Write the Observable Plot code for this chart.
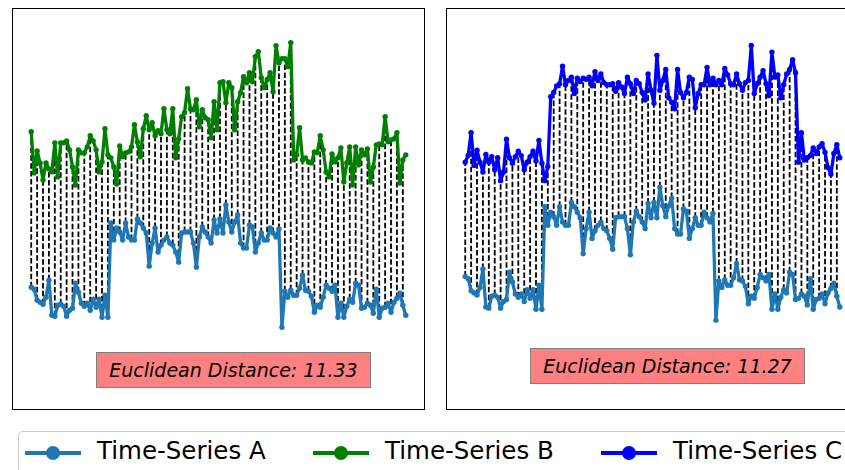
<!DOCTYPE html>
<html>
<head>
<meta charset="utf-8">
<script src="https://cdn.jsdelivr.net/npm/d3@7"></script>
<script src="https://cdn.jsdelivr.net/npm/@observablehq/plot@0.6"></script>
<style>
  html, body { margin: 0; padding: 0; background: #fff; }
  body { width: 845px; height: 470px; overflow: hidden; position: relative; font-family: "DejaVu Sans", sans-serif; }
  .panel { position: absolute; top: 7px; width: 414px; height: 403px; }
  .panel svg { max-width: none !important; width: 414px; height: 403px; display: block; }
  .dist { position: absolute; height: 36px; box-sizing: border-box; background: #ff8080; border: 1px solid #808080;
          font-style: italic; font-size: 19px; color: #000; display: flex; align-items: center; justify-content: center; white-space: nowrap; }
  .legend { position: absolute; left: 18px; top: 431px; width: 900px; height: 80px; box-sizing: border-box;
            border: 1px solid #cccccc; border-radius: 5px; background: #fff; }
  .item { position: absolute; top: 0; height: 40px; }
  .item svg { position: absolute; top: 13px; left: 0; }
  .item span { position: absolute; top: 4px; font-size: 24.5px; white-space: nowrap; color: #000; }
</style>
</head>
<body>
<div id="left" class="panel" style="left:11px"></div>
<div id="right" class="panel" style="left:445px"></div>
<div class="dist" style="left:96px; top:352px; width:275px;">Euclidean Distance: 11.33</div>
<div class="dist" style="left:530px; top:348px; width:275px;">Euclidean Distance: 11.27</div>
<div class="legend" id="legend"></div>
<script>
// Time-series values (index 0..127)
const seriesA = [
  1.22,1.20,1.09,1.07,1.05,1.12,1.29,0.94,0.93,1.04,1.05,1.03,0.93,0.99,1.01,1.26,
  1.17,1.06,1.03,1.06,0.99,1.10,1.02,1.10,0.92,1.14,0.92,1.86,1.69,1.81,1.77,1.69,
  1.86,1.72,1.69,1.69,1.90,1.86,1.81,1.76,1.43,1.66,1.81,1.57,1.64,1.69,1.72,1.66,
  1.64,1.57,1.47,1.76,1.77,1.77,1.77,1.66,1.42,1.72,1.82,1.77,1.72,1.66,1.89,1.76,
  1.90,1.76,2.04,1.87,1.77,1.87,1.94,1.66,1.61,1.61,1.84,1.82,1.57,1.66,1.76,1.69,
  1.69,1.81,1.76,1.72,1.80,0.82,1.18,1.12,1.19,1.14,1.14,1.21,1.34,1.19,1.18,1.13,
  0.97,1.04,1.02,1.12,1.24,1.21,1.18,1.24,0.92,1.06,0.92,1.03,1.10,1.07,1.26,1.24,
  1.01,1.02,1.06,1.04,0.96,1.20,0.92,1.01,1.02,1.06,0.97,1.07,1.11,1.16,1.04,0.94
];
const seriesB = [
  2.77,2.36,2.58,2.46,2.29,2.46,2.40,2.37,2.66,2.32,2.66,2.66,2.68,2.59,2.42,2.24,
  2.59,2.56,2.56,2.62,2.73,2.68,2.59,2.37,2.47,2.80,2.54,2.51,2.42,2.25,2.63,2.52,
  2.56,2.57,2.62,2.84,2.67,2.52,2.80,2.93,2.79,2.86,2.73,2.78,2.75,3.00,2.79,2.75,
  3.00,2.51,2.70,2.92,2.96,3.20,3.00,2.99,3.09,2.82,2.99,2.91,2.89,2.71,3.07,2.79,
  3.26,3.27,3.06,3.26,3.21,2.79,3.07,3.16,3.32,3.26,3.36,3.27,3.52,3.57,3.31,3.21,
  3.29,3.36,3.17,3.63,3.46,3.50,3.50,3.42,3.66,2.49,2.54,2.81,2.49,2.51,2.47,2.46,
  2.57,2.56,2.73,2.59,2.37,2.32,2.55,2.47,2.51,2.61,2.27,2.46,2.62,2.24,2.62,2.44,
  2.59,2.54,2.60,2.27,2.42,2.64,2.65,2.64,2.92,2.67,2.69,2.70,2.76,2.26,2.49,2.54
];
const seriesC = [
  2.27,2.33,2.54,2.24,2.38,2.27,2.18,2.34,2.27,2.32,2.20,2.31,2.10,2.18,2.48,2.31,
  2.26,2.32,2.37,2.33,2.20,2.27,2.32,2.37,2.28,2.47,2.26,2.10,2.23,2.87,2.91,2.97,
  2.99,3.15,2.98,3.02,3.05,2.90,3.04,3.01,3.04,3.03,3.05,2.97,3.10,3.02,3.08,3.00,
  2.98,2.98,2.99,2.92,3.00,2.96,2.90,3.05,2.99,2.90,3.02,2.99,2.91,2.84,3.08,2.93,
  2.81,3.25,2.93,3.02,3.12,2.86,2.82,2.76,3.12,2.91,2.86,2.91,3.05,3.03,2.77,2.90,
  2.98,2.98,3.14,2.98,3.04,2.98,3.02,2.98,3.13,3.07,2.99,2.98,3.08,2.99,2.93,3.00,
  3.02,3.34,2.90,2.99,3.05,3.11,2.99,2.88,3.28,3.05,3.07,2.86,2.98,3.08,3.12,3.21,
  3.09,2.27,2.54,2.29,2.31,2.33,2.40,2.35,2.41,2.44,2.36,2.22,2.16,2.35,2.43,2.31
];
const legendLabels = ["Time-Series A", "Time-Series B", "Time-Series C"];
const colorA = "#1f77b4", colorB = "#008000", colorC = "#0000ff";

function panel(other, color) {
  const rows = seriesA.map((a, i) => ({i, a, o: other[i]}));
  const dashed = rows.filter(d => d.i % 2 === 0);
  const n = rows.length - 1;
  const pad = n * 0.05;
  const ymax = d3.max([...seriesA, ...other]) + 0.34;
  return Plot.plot({
    width: 414, height: 403,
    marginTop: 1, marginBottom: 1, marginLeft: 1, marginRight: 1,
    style: {maxWidth: "none", overflow: "visible"},
    x: {domain: [-pad, n + pad], axis: null},
    y: {domain: [0, ymax], axis: null},
    marks: [
      Plot.link(dashed, {x1: "i", x2: "i", y1: "a", y2: "o", stroke: "black", strokeWidth: 1.8, strokeDasharray: "5.5,2.4"}),
      Plot.line(rows, {x: "i", y: "a", stroke: colorA, strokeWidth: 3.3}),
      Plot.dot(rows, {x: "i", y: "a", fill: colorA, r: 2.7}),
      Plot.line(rows, {x: "i", y: "o", stroke: color, strokeWidth: 3.3}),
      Plot.dot(rows, {x: "i", y: "o", fill: color, r: 2.7}),
      Plot.frame({stroke: "black", strokeWidth: 1})
    ]
  });
}

document.getElementById("left").appendChild(panel(seriesB, colorB));
document.getElementById("right").appendChild(panel(seriesC, colorC));

// legend
const legend = document.getElementById("legend");
const legendColors = [colorA, colorB, colorC];
const itemLeft = [5, 293, 581];
legendLabels.forEach((lab, k) => {
  const it = document.createElement("div");
  it.className = "item";
  it.style.left = itemLeft[k] + "px";
  it.innerHTML = `<svg width="60" height="16"><line x1="1" x2="57" y1="8" y2="8" stroke="${legendColors[k]}" stroke-width="4"/><circle cx="29" cy="8" r="7" fill="${legendColors[k]}"/></svg><span style="left:73px">${lab}</span>`;
  legend.appendChild(it);
});
</script>
</body>
</html>
